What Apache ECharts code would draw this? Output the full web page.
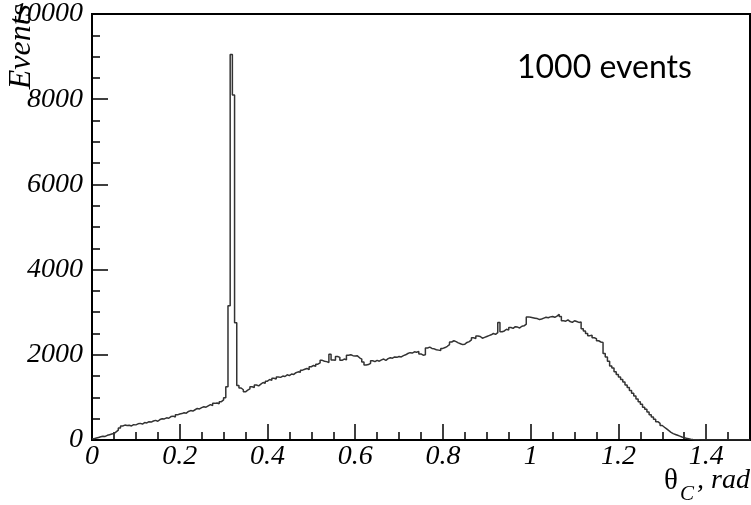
<!DOCTYPE html>
<html>
<head>
<meta charset="utf-8">
<script src="https://cdn.jsdelivr.net/npm/echarts@6/dist/echarts.min.js"></script>
<style>
html,body{margin:0;padding:0;background:#fff;}
#chart{width:751px;height:505px;}
</style>
</head>
<body>
<div id="chart"></div>
<script>
// Histogram: bin width 0.005 rad, starting at 0
const binWidth = 0.005;
const counts = [
  // 0.00 - 0.10
  30, 45, 60, 75, 90, 85, 110, 125, 140, 150, 190, 230, 280, 330, 350, 340, 345, 330, 360, 355,
  // 0.10 - 0.20
  380, 390, 375, 410, 400, 430, 420, 445, 460, 440, 480, 500, 495, 520, 510, 550, 560, 540, 590, 610,
  // 0.20 - 0.30
  620, 640, 630, 670, 690, 680, 710, 740, 730, 760, 780, 770, 800, 830, 810, 860, 870, 850, 900, 940,
  // 0.30 - 0.40
  990, 1250, 3150, 9050, 8100, 2750, 1280, 1220, 1180, 1130, 1170, 1200, 1250, 1230, 1290, 1270, 1310, 1350, 1330, 1380,
  // 0.40 - 0.50
  1420, 1400, 1450, 1430, 1480, 1470, 1500, 1490, 1530, 1510, 1550, 1540, 1580, 1600, 1590, 1640, 1660, 1680, 1650, 1720,
  // 0.50 - 0.60
  1750, 1730, 1780, 1810, 1870, 1850, 1840, 1820, 2010, 1880, 1870, 1960, 1940, 1870, 1900, 1880, 1990, 2000, 1980, 1970,
  // 0.60 - 0.70
  1975, 1930, 1900, 1830, 1760, 1770, 1800, 1860, 1840, 1870, 1850, 1880, 1900, 1870, 1910, 1930, 1920, 1950, 1940, 1960,
  // 0.70 - 0.80
  1950, 1980, 2000, 2030, 2050, 2040, 2070, 2060, 2080, 2020, 1990, 2000, 2160, 2180, 2150, 2140, 2120, 2110, 2100, 2150,
  // 0.80 - 0.90
  2170, 2200, 2240, 2300, 2330, 2310, 2280, 2260, 2240, 2250, 2290, 2310, 2350, 2400, 2380, 2440, 2430, 2390, 2410, 2430,
  // 0.90 - 1.00
  2450, 2470, 2500, 2480, 2520, 2760, 2540, 2560, 2600, 2580, 2640, 2620, 2660, 2650, 2630, 2670, 2680, 2720, 2890, 2880,
  // 1.00 - 1.10
  2870, 2860, 2850, 2830, 2840, 2860, 2880, 2870, 2890, 2900, 2880, 2910, 2950, 2900, 2800, 2790, 2820, 2780, 2760, 2800,
  // 1.10 - 1.20
  2780, 2760, 2770, 2610, 2560, 2500, 2450, 2460, 2400, 2380, 2330, 2300, 2290, 2030, 1950, 1850, 1740, 1690, 1600, 1540,
  // 1.20 - 1.30
  1480, 1420, 1360, 1290, 1230, 1160, 1100, 1030, 960, 900, 840, 770, 720, 660, 590, 540, 490, 430, 390, 340,
  // 1.30 - 1.40
  300, 260, 220, 180, 150, 130, 110, 90, 70, 55, 40, 30, 20, 12, 8, 5, 3, 2, 1, 0,
  // 1.40 - 1.50
  0, 0, 0, 0, 0, 0, 0, 0, 0, 0, 0, 0, 0, 0, 0, 0, 0, 0, 0, 0
];
const xRange = [0, 1.5];
const yRange = [0, 10000];
const xMajor = 0.2, xMinor = 0.05;
const yMajor = 2000, yMinor = 500;
const yTitle = 'Events';
const annotation = '1000 events';

const stepData = counts.map((v, i) => [+(i * binWidth).toFixed(4), v]);
stepData.push([+(counts.length * binWidth).toFixed(4), counts[counts.length - 1]]);

const serif = 'Liberation Serif';
const chart = echarts.init(document.getElementById('chart'), null, {renderer: 'canvas'});
chart.setOption({
  animation: false,
  backgroundColor: '#fff',
  grid: {left: 92, right: 1, top: 12, bottom: 65, show: true, borderColor: '#000', borderWidth: 2, backgroundColor: 'transparent'},
  xAxis: [
    {type: 'value', min: xRange[0], max: xRange[1], interval: xMajor, position: 'bottom',
     axisLine: {show: true, lineStyle: {color: '#000', width: 2}},
     axisTick: {show: true, inside: true, length: 16, lineStyle: {color: '#000', width: 1.5}},
     axisLabel: {show: true, showMaxLabel: false, color: '#000', fontFamily: serif, fontStyle: 'italic', fontSize: 28, margin: 3,
                 formatter: v => String(+v.toFixed(2))},
     splitLine: {show: false}},
    {type: 'value', min: xRange[0], max: xRange[1], interval: xMinor, position: 'bottom',
     axisLine: {show: false},
     axisTick: {show: true, inside: true, length: 8, lineStyle: {color: '#000', width: 1.5}},
     axisLabel: {show: false}, splitLine: {show: false}}
  ],
  yAxis: [
    {type: 'value', min: yRange[0], max: yRange[1], interval: yMajor, position: 'left',
     axisLine: {show: true, lineStyle: {color: '#000', width: 2}},
     axisTick: {show: true, inside: true, length: 16, lineStyle: {color: '#000', width: 1.5}},
     axisLabel: {show: true, color: '#000', fontFamily: serif, fontStyle: 'italic', fontSize: 28, margin: 9,
                 formatter: v => String(Math.round(v))},
     splitLine: {show: false}},
    {type: 'value', min: yRange[0], max: yRange[1], interval: yMinor, position: 'left',
     axisLine: {show: false},
     axisTick: {show: true, inside: true, length: 8, lineStyle: {color: '#000', width: 1.5}},
     axisLabel: {show: false}, splitLine: {show: false}}
  ],
  series: [{
    type: 'line', step: 'end', xAxisIndex: 0, yAxisIndex: 0,
    data: stepData, showSymbol: false, symbol: 'none',
    lineStyle: {color: '#333', width: 1.5}
  }],
  graphic: [
    {type: 'text', x: 22, y: 4, rotation: Math.PI / 2, z: 100,
     style: {text: yTitle, font: 'italic 32px "Liberation Serif"', fill: '#000', textAlign: 'right', textVerticalAlign: 'middle'}},
    {type: 'text', x: 517, y: 68, z: 100,
     style: {text: annotation, font: '32px Lato', fill: '#000', textAlign: 'left', textVerticalAlign: 'middle'}},
    {type: 'text', x: 664, y: 481, z: 100,
     style: {text: 'θ', font: '29px "Liberation Serif"', fill: '#000', textAlign: 'left', textVerticalAlign: 'middle'}},
    {type: 'text', x: 680, y: 494, z: 100,
     style: {text: 'C', font: 'italic 21px "Liberation Serif"', fill: '#000', textAlign: 'left', textVerticalAlign: 'middle'}},
    {type: 'text', x: 750, y: 481, z: 100,
     style: {text: ', rad', font: 'italic 28px "Liberation Serif"', fill: '#000', textAlign: 'right', textVerticalAlign: 'middle'}}
  ]
});
</script>
</body>
</html>
